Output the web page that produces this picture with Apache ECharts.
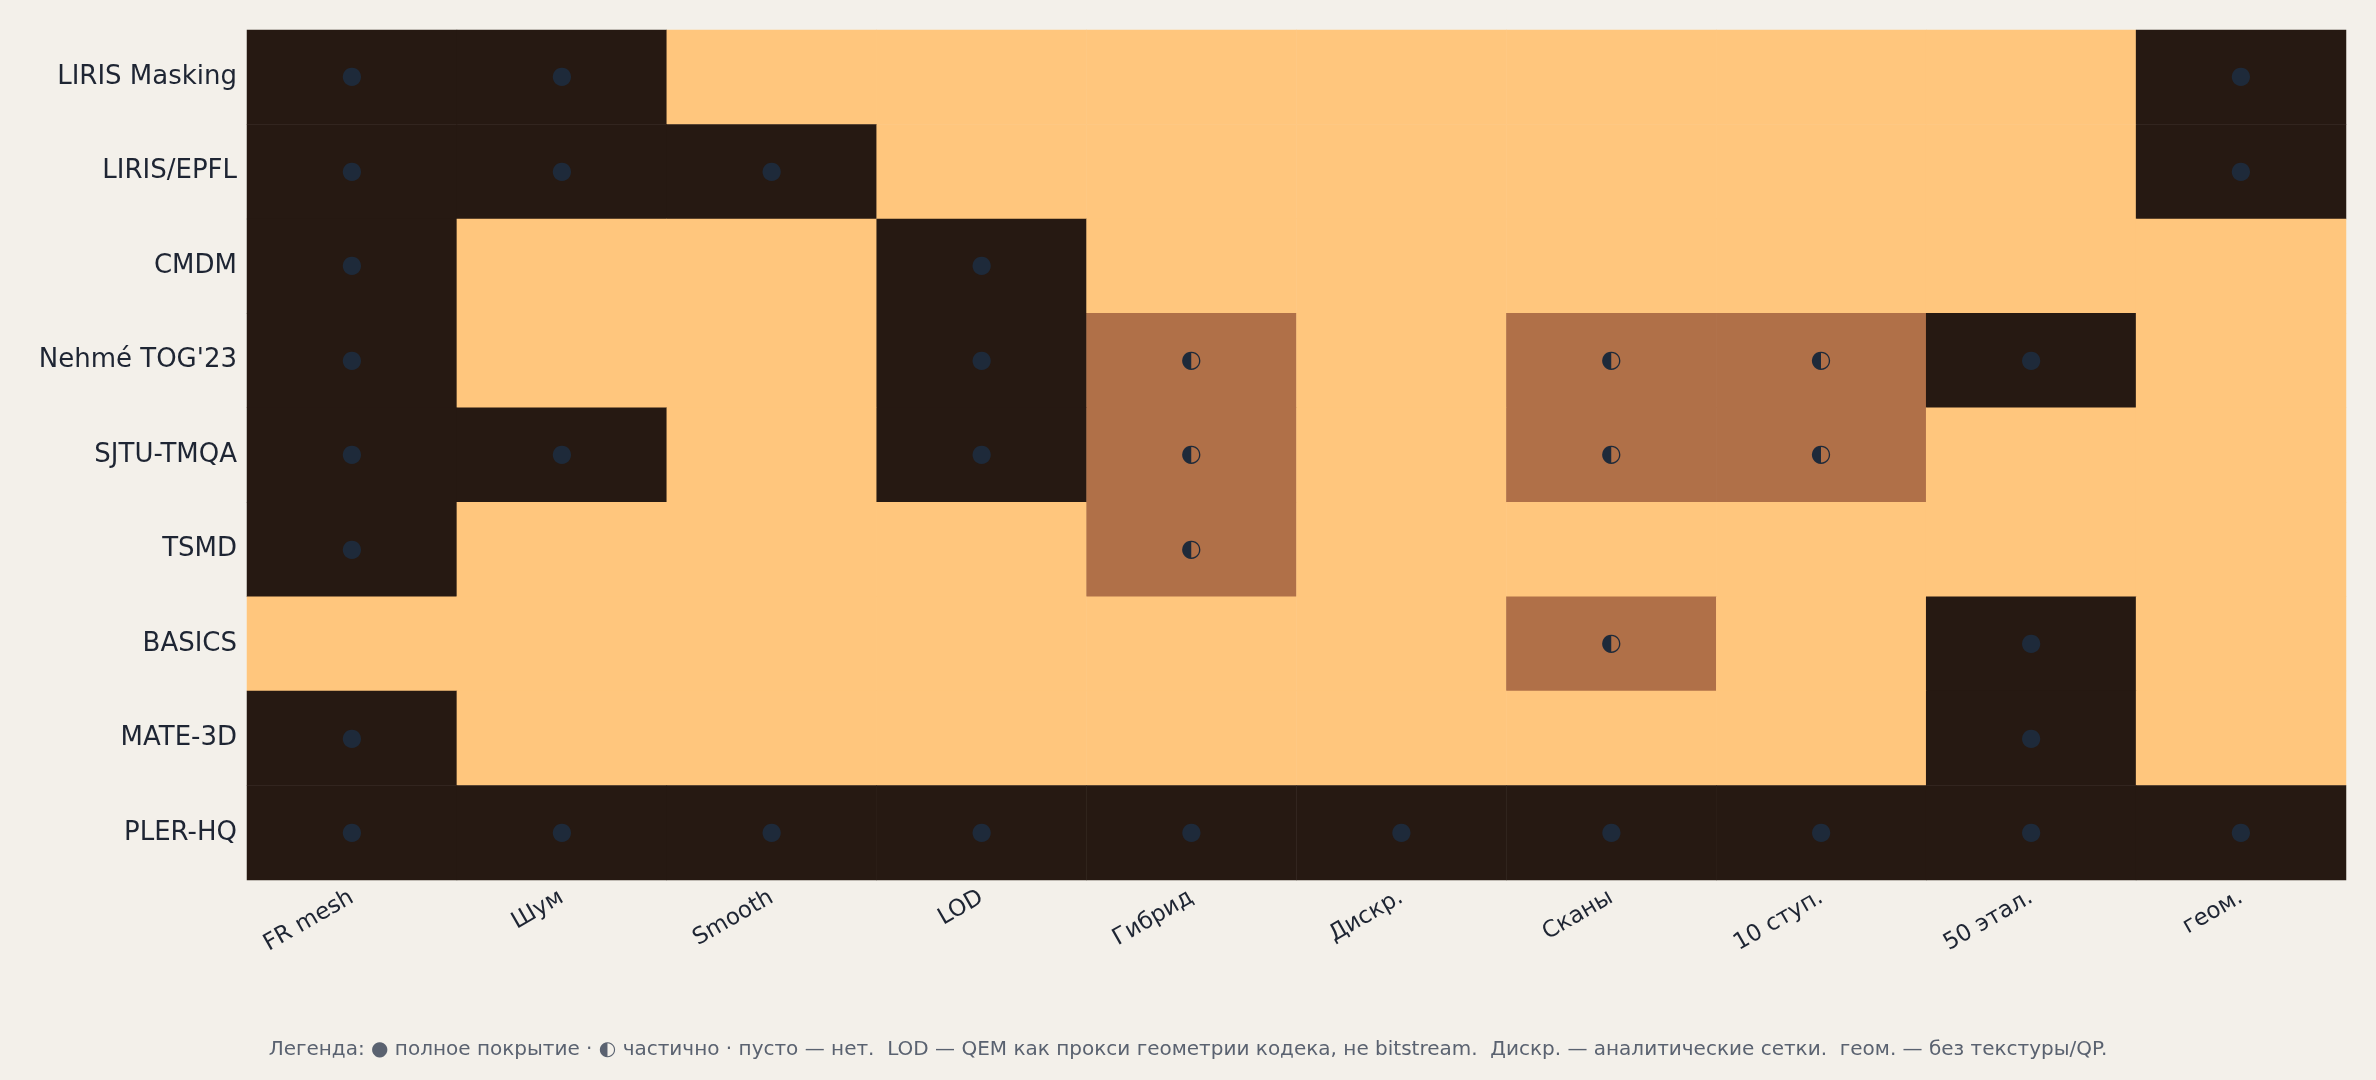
<!DOCTYPE html>
<html><head><meta charset="utf-8">
<script src="https://cdn.jsdelivr.net/npm/echarts@6/dist/echarts.min.js"></script>
<style>html,body{margin:0;padding:0;background:#f3f0ea}#c{width:2376px;height:1080px}</style>
</head><body><div id="c"></div>
<script>
const columns = ['FR mesh','Шум','Smooth','LOD','Гибрид','Дискр.','Сканы','10 ступ.','50 этал.','геом.'];
const rows = ['LIRIS Masking','LIRIS/EPFL','CMDM',"Nehmé TOG'23",'SJTU-TMQA','TSMD','BASICS','MATE-3D','PLER-HQ'];
// 2 = full, 1 = partial, 0 = none
const coverage = [
  [2,2,0,0,0,0,0,0,0,2],
  [2,2,2,0,0,0,0,0,0,2],
  [2,0,0,2,0,0,0,0,0,0],
  [2,0,0,2,1,0,1,1,2,0],
  [2,2,0,2,1,0,1,1,0,0],
  [2,0,0,0,1,0,0,0,0,0],
  [0,0,0,0,0,0,1,0,2,0],
  [2,0,0,0,0,0,0,0,2,0],
  [2,2,2,2,2,2,2,2,2,2]
];
const footer = 'Легенда: ● полное покрытие · ◐ частично · пусто — нет.  LOD — QEM как прокси геометрии кодека, не bitstream.  Дискр. — аналитические сетки.  геом. — без текстуры/QP.';
const data = [];
coverage.forEach((r,i)=>r.forEach((v,j)=>data.push([j,i,v])));
const chart = echarts.init(document.getElementById('c'));
chart.setOption({
  backgroundColor:'#f3f0ea',
  animation:false,
  grid:{left:247,right:30,top:30,bottom:200},
  xAxis:{type:'category',data:columns,axisLine:{show:false},axisTick:{show:false},splitArea:{show:false},
    axisLabel:{rotate:30,fontSize:23,color:'#1e2533',fontFamily:'DejaVu Sans',margin:16}},
  yAxis:{type:'category',data:rows,inverse:true,axisLine:{show:false},axisTick:{show:false},
    axisLabel:{fontSize:26,color:'#1e2533',fontFamily:'DejaVu Sans',margin:10}},
  visualMap:{show:false,type:'piecewise',dimension:2,pieces:[
    {value:0,color:'#ffc67d'},{value:1,color:'#b07048'},{value:2,color:'#261912'}]},
  graphic:[{type:'text',left:'center',top:1040,style:{text:footer,fontSize:20,fill:'#5a6270',fontFamily:'DejaVu Sans'}}],
  series:[{type:'heatmap',data:data,itemStyle:{borderWidth:0},
    label:{show:true,fontFamily:'DejaVu Sans',fontSize:24,color:'#1e2a3a',
      formatter:p=>p.value[2]===2?'●':(p.value[2]===1?'◐':'')}}]
});
</script></body></html>
